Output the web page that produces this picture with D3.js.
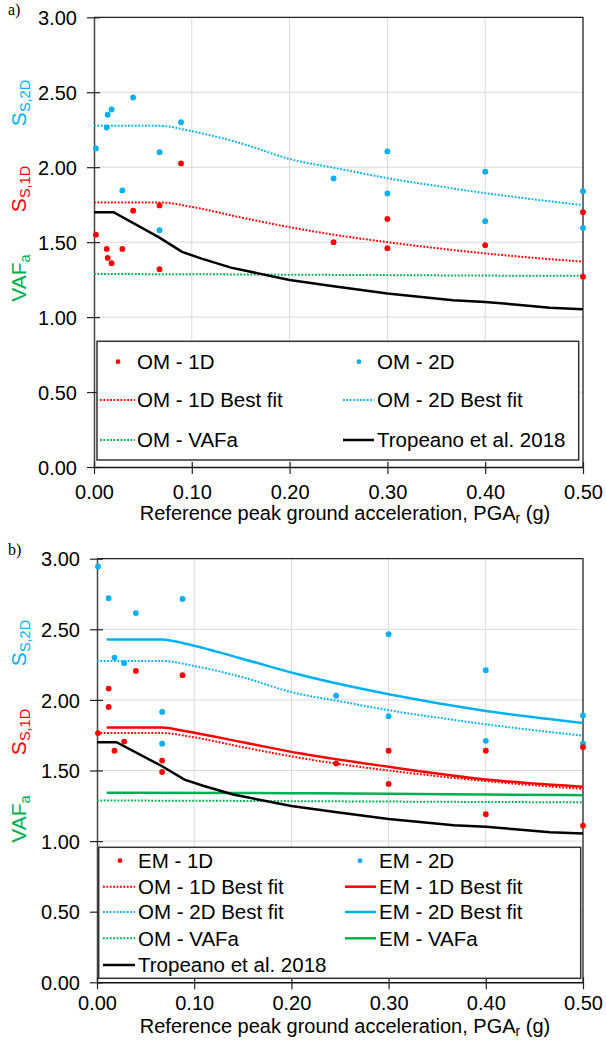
<!DOCTYPE html>
<html>
<head>
<meta charset="utf-8">
<script src="https://cdn.jsdelivr.net/npm/d3@7"></script>
<style>
  body { margin: 0; background: #fff; }
  svg { display: block; font-family: "Liberation Sans", Arial, sans-serif; }
</style>
</head>
<body>
<div id="chart"></div>
<script>
// ---- data ----
const xTicks = [0, 0.1, 0.2, 0.3, 0.4, 0.5];
const yTicks = [0, 0.5, 1, 1.5, 2, 2.5, 3];

// panel a) scatter
const om1dPga = [0.002, 0.013, 0.014, 0.018, 0.029, 0.040, 0.067, 0.067, 0.089, 0.245, 0.30, 0.30, 0.40, 0.50, 0.50];
const om1dVal = [1.55, 1.455, 1.395, 1.36, 1.455, 1.71, 1.745, 1.32, 2.025, 1.50, 1.655, 1.46, 1.48, 1.70, 1.27];
const om2dPga = [0.002, 0.013, 0.014, 0.018, 0.029, 0.040, 0.067, 0.067, 0.089, 0.245, 0.30, 0.30, 0.40, 0.40, 0.50, 0.50];
const om2dVal = [2.125, 2.265, 2.35, 2.385, 1.845, 2.465, 2.10, 1.58, 2.30, 1.925, 2.105, 1.825, 1.97, 1.64, 1.84, 1.595];

// panel b) scatter
const em1dPga = [0.001, 0.012, 0.012, 0.018, 0.028, 0.040, 0.067, 0.067, 0.088, 0.246, 0.30, 0.30, 0.40, 0.40, 0.50, 0.50];
const em1dVal = [1.765, 2.08, 1.95, 1.64, 1.705, 2.205, 1.57, 1.49, 2.175, 1.55, 1.64, 1.405, 1.64, 1.19, 1.665, 1.11];
const em2dPga = [0.001, 0.012, 0.018, 0.028, 0.040, 0.067, 0.067, 0.088, 0.246, 0.30, 0.30, 0.40, 0.40, 0.50, 0.50];
const em2dVal = [2.945, 2.72, 2.30, 2.26, 2.615, 1.915, 1.69, 2.715, 2.03, 2.465, 1.885, 2.21, 1.71, 1.89, 1.69];

// best fit curves
const fitPga = [0, 0.067, 0.1, 0.15, 0.2, 0.25, 0.3, 0.35, 0.4, 0.45, 0.5];
const om1dFit = [1.765, 1.765, 1.735, 1.665, 1.60, 1.545, 1.50, 1.46, 1.425, 1.395, 1.37];
const om2dFit = [2.276, 2.276, 2.24, 2.16, 2.055, 1.99, 1.927, 1.875, 1.827, 1.785, 1.747];
const vafPga = [0, 0.1, 0.2, 0.3, 0.4, 0.5];
const omVaf = [1.287, 1.286, 1.283, 1.28, 1.277, 1.275];

const emFitPga = [0.01, 0.067, 0.09, 0.15, 0.21, 0.3, 0.4, 0.5];
const em1dFit = [1.804, 1.804, 1.78, 1.70, 1.62, 1.526, 1.436, 1.385];
const em2dFit = [2.428, 2.428, 2.40, 2.29, 2.176, 2.04, 1.922, 1.837];
const emVafPga = [0.01, 0.2, 0.3, 0.4, 0.5];
const emVaf = [1.343, 1.339, 1.336, 1.33, 1.325];

const tropPga = [0, 0.02, 0.067, 0.09, 0.11, 0.14, 0.2, 0.245, 0.3, 0.367, 0.4, 0.43, 0.466, 0.5];
const tropVal = [1.70, 1.70, 1.53, 1.435, 1.39, 1.33, 1.248, 1.206, 1.157, 1.113, 1.101, 1.084, 1.062, 1.053];

const RED = "#ff0000", BLUE = "#00b0f0", GREEN = "#00b050", BLACK = "#000000";
const zip = (xs, ys) => xs.map((x, i) => ({x: x, y: ys[i]}));

const svg = d3.select("#chart").append("svg")
    .attr("width", 606)
    .attr("height", 1040);

function drawPanel(cfg) {
    const x = d3.scaleLinear().domain([0, 0.5]).range([cfg.left, 583]);
    const y = d3.scaleLinear().domain([0, 3]).range([cfg.bottom, cfg.top]);
    const g = svg.append("g");

    // grid
    g.append("g").selectAll("line")
        .data(xTicks.slice(1, -1))
        .join("line")
        .attr("x1", d => x(d)).attr("x2", d => x(d))
        .attr("y1", y(0)).attr("y2", y(3))
        .attr("stroke", "#d9d9d9").attr("stroke-width", 1);
    g.append("g").selectAll("line")
        .data(yTicks.slice(1, -1))
        .join("line")
        .attr("x1", x(0)).attr("x2", x(0.5))
        .attr("y1", d => y(d)).attr("y2", d => y(d))
        .attr("stroke", "#d9d9d9").attr("stroke-width", 1);

    // border top/right
    g.append("path")
        .attr("d", `M${x(0)},${y(3)}H${x(0.5)}V${y(0)}`)
        .attr("fill", "none").attr("stroke", "#222").attr("stroke-width", 1.3);

    // axes
    const yAxis = g.append("g")
        .attr("transform", `translate(${x(0)},0)`)
        .call(d3.axisLeft(y).tickValues(yTicks).tickFormat(d3.format(".2f")).tickSizeOuter(0));
    const xAxis = g.append("g")
        .attr("transform", `translate(0,${y(0)})`)
        .call(d3.axisBottom(x).tickValues(xTicks).tickFormat(d3.format(".2f")).tickSizeOuter(0));
    yAxis.select(".domain").attr("stroke", "#444").attr("stroke-width", 1.5);
    xAxis.select(".domain").attr("stroke", "#111").attr("stroke-width", 1.5);
    yAxis.selectAll(".tick line").attr("x1", -7).attr("x2", 6).attr("stroke", "#222").attr("stroke-width", 1.2);
    xAxis.selectAll(".tick line").attr("y1", -5).attr("y2", 7).attr("stroke", "#222").attr("stroke-width", 1.2);
    yAxis.selectAll(".tick text")
        .attr("x", -17).attr("dy", "0.36em")
        .style("font-size", "20px").style("font-family", "'Liberation Sans', Arial, sans-serif").attr("fill", "#000");
    xAxis.selectAll(".tick text")
        .attr("y", 0).attr("dy", cfg.tickDy)
        .style("font-size", "20px").style("font-family", "'Liberation Sans', Arial, sans-serif").attr("fill", "#000");

    // x title
    const title = g.append("text")
        .attr("x", 345).attr("y", y(0) + cfg.titleOffset)
        .attr("text-anchor", "middle")
        .style("font-size", "20px").attr("fill", "#000");
    title.append("tspan").text("Reference peak ground acceleration, PGA");
    title.append("tspan").text("r").style("font-size", "14px").attr("dy", 3);
    title.append("tspan").text(" (g)").attr("dy", -3);

    // rotated y labels
    cfg.yLabels.forEach(function (lab) {
        const t = g.append("text")
            .attr("transform", `translate(26,${lab.cy}) rotate(-90)`)
            .attr("text-anchor", "middle")
            .attr("fill", lab.color)
            .style("font-size", "21px");
        t.append("tspan").text(lab.main);
        t.append("tspan").text(lab.sub).style("font-size", "14.5px").attr("dy", 4);
    });

    // panel letter
    g.append("text")
        .attr("x", 8).attr("y", cfg.letterY)
        .style("font-family", "'Liberation Serif', 'Times New Roman', serif")
        .style("font-size", "16px")
        .attr("fill", "#000")
        .text(cfg.letter);

    const line = d3.line().x(d => x(d.x)).y(d => y(d.y)).curve(d3.curveMonotoneX);
    const straight = d3.line().x(d => x(d.x)).y(d => y(d.y));
    const plot = g.append("g");
    cfg.lines.forEach(function (s) {
        plot.append("path")
            .datum(zip(s.xs, s.ys))
            .attr("d", s.linear ? straight : line)
            .attr("fill", "none")
            .attr("stroke", s.color)
            .attr("stroke-width", s.dotted ? 2 : 2.5)
            .attr("stroke-dasharray", s.dotted ? "1.8,1.6" : null);
    });
    cfg.points.forEach(function (s) {
        plot.append("g").selectAll("circle")
            .data(zip(s.xs, s.ys))
            .join("circle")
            .attr("cx", d => x(d.x))
            .attr("cy", d => y(d.y))
            .attr("r", 2.9)
            .attr("fill", s.color);
    });

    // legend
    const lg = g.append("g");
    lg.append("rect")
        .attr("x", cfg.legend.x0).attr("y", cfg.legend.y0)
        .attr("width", cfg.legend.x1 - cfg.legend.x0)
        .attr("height", cfg.legend.y1 - cfg.legend.y0)
        .attr("fill", "#fff").attr("stroke", "#333").attr("stroke-width", 1.5);
    cfg.legend.items.forEach(function (it) {
        const col = cfg.legend.cols[it.col];
        const cy = cfg.legend.rows[it.row];
        if (it.kind === "dot") {
            lg.append("circle").attr("cx", col.dot).attr("cy", cy).attr("r", 2.4).attr("fill", it.color);
        } else {
            lg.append("line")
                .attr("x1", col.l0).attr("x2", col.l1)
                .attr("y1", cy).attr("y2", cy)
                .attr("stroke", it.color)
                .attr("stroke-width", it.kind === "dotted" ? 2 : 2.5)
                .attr("stroke-dasharray", it.kind === "dotted" ? "1.8,1.6" : null);
        }
        lg.append("text")
            .attr("x", col.text).attr("y", cy + 7.3)
            .style("font-size", "20.5px").attr("fill", "#000")
            .text(it.label);
    });
}

drawPanel({
    letter: "a)", letterY: 15,
    left: 94, top: 17.3, bottom: 467, tickDy: 32, titleOffset: 53,
    yLabels: [
        {main: "S", sub: "S,2D", color: BLUE, cy: 103},
        {main: "S", sub: "S,1D", color: RED, cy: 189},
        {main: "VAF", sub: "a", color: GREEN, cy: 278}
    ],
    lines: [
        {xs: vafPga, ys: omVaf, color: GREEN, dotted: true},
        {xs: fitPga, ys: om1dFit, color: RED, dotted: true},
        {xs: fitPga, ys: om2dFit, color: BLUE, dotted: true},
        {xs: tropPga, ys: tropVal, color: BLACK, linear: true}
    ],
    points: [
        {xs: om2dPga, ys: om2dVal, color: BLUE},
        {xs: om1dPga, ys: om1dVal, color: RED}
    ],
    legend: {
        x0: 97, x1: 578.7, y0: 341.3, y1: 460,
        rows: [361.7, 400, 440],
        cols: [{dot: 118, l0: 100, l1: 135, text: 137}, {dot: 359, l0: 343, l1: 374, text: 377}],
        items: [
            {col: 0, row: 0, kind: "dot", color: RED, label: "OM - 1D"},
            {col: 0, row: 1, kind: "dotted", color: RED, label: "OM - 1D Best fit"},
            {col: 0, row: 2, kind: "dotted", color: GREEN, label: "OM - VAFa"},
            {col: 1, row: 0, kind: "dot", color: BLUE, label: "OM - 2D"},
            {col: 1, row: 1, kind: "dotted", color: BLUE, label: "OM - 2D Best fit"},
            {col: 1, row: 2, kind: "solid", color: BLACK, label: "Tropeano et al. 2018"}
        ]
    }
});

drawPanel({
    letter: "b)", letterY: 555,
    left: 97, top: 558.7, bottom: 982.3, tickDy: 27.5, titleOffset: 50.7,
    yLabels: [
        {main: "S", sub: "S,2D", color: BLUE, cy: 643},
        {main: "S", sub: "S,1D", color: RED, cy: 732},
        {main: "VAF", sub: "a", color: GREEN, cy: 819}
    ],
    lines: [
        {xs: vafPga, ys: omVaf, color: GREEN, dotted: true},
        {xs: emVafPga, ys: emVaf, color: GREEN},
        {xs: fitPga, ys: om1dFit, color: RED, dotted: true},
        {xs: fitPga, ys: om2dFit, color: BLUE, dotted: true},
        {xs: emFitPga, ys: em1dFit, color: RED},
        {xs: emFitPga, ys: em2dFit, color: BLUE},
        {xs: tropPga, ys: tropVal, color: BLACK, linear: true}
    ],
    points: [
        {xs: em2dPga, ys: em2dVal, color: BLUE},
        {xs: em1dPga, ys: em1dVal, color: RED}
    ],
    legend: {
        x0: 98.7, x1: 580.7, y0: 847.3, y1: 978.3,
        rows: [860.7, 886.7, 912, 938.3, 965],
        cols: [{dot: 120, l0: 103, l1: 135, text: 138}, {dot: 360, l0: 345, l1: 376, text: 379}],
        items: [
            {col: 0, row: 0, kind: "dot", color: RED, label: "EM - 1D"},
            {col: 0, row: 1, kind: "dotted", color: RED, label: "OM - 1D Best fit"},
            {col: 0, row: 2, kind: "dotted", color: BLUE, label: "OM - 2D Best fit"},
            {col: 0, row: 3, kind: "dotted", color: GREEN, label: "OM - VAFa"},
            {col: 0, row: 4, kind: "solid", color: BLACK, label: "Tropeano et al. 2018"},
            {col: 1, row: 0, kind: "dot", color: BLUE, label: "EM - 2D"},
            {col: 1, row: 1, kind: "solid", color: RED, label: "EM - 1D Best fit"},
            {col: 1, row: 2, kind: "solid", color: BLUE, label: "EM - 2D Best fit"},
            {col: 1, row: 3, kind: "solid", color: GREEN, label: "EM - VAFa"}
        ]
    }
});
</script>
</body>
</html>
